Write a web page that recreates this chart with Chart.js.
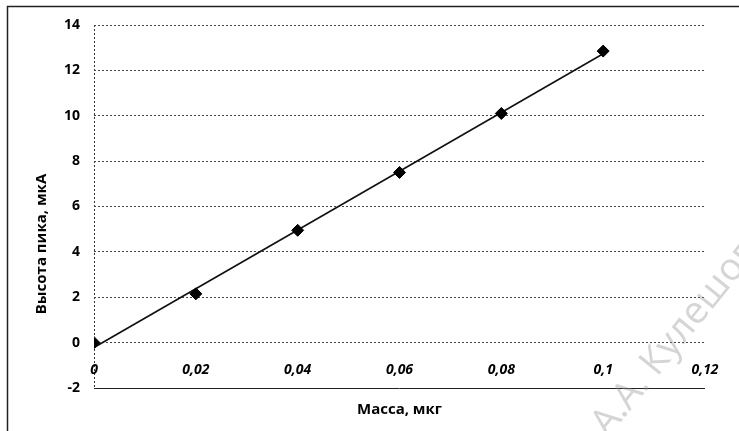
<!DOCTYPE html>
<html>
<head>
  <title>Калибровка</title>
  <script src="https://cdn.jsdelivr.net/npm/chart.js"></script>
  <style>
    body { margin: 0; background: #fff; }
    #wrap { width: 739px; height: 431px; }
  </style>
</head>
<body>
  <div id="wrap"><canvas id="chart" width="739" height="431"></canvas></div>

  <script>
    // data
    const masses = [0, 0.02, 0.04, 0.06, 0.08, 0.1];
    const peaks = [0, 2.15, 4.95, 7.5, 10.1, 12.85];
    const xTickLabels = ['0', '0,02', '0,04', '0,06', '0,08', '0,1', '0,12'];
    const yTickLabels = ['-2', '0', '2', '4', '6', '8', '10', '12', '14'];

    const xTitle = 'Масса, мкг';
    const yTitle = 'Высота пика, мкА';
    const watermark = 'А.А. Кулешов';

    // linear trendline (least squares) from the points
    const n = masses.length;
    const mx = masses.reduce((a, b) => a + b, 0) / n;
    const my = peaks.reduce((a, b) => a + b, 0) / n;
    let sxy = 0, sxx = 0;
    for (let i = 0; i < n; i++) {
      sxy += (masses[i] - mx) * (peaks[i] - my);
      sxx += (masses[i] - mx) * (masses[i] - mx);
    }
    const slope = sxy / sxx;
    const icpt = my - slope * mx;
    const trend = [masses[0], masses[n - 1]].map(x => ({ x: x, y: icpt + slope * x }));

    const FONT = '"Open Sans", "DejaVu Sans", sans-serif';

    // frame, y title and watermark
    const extras = {
      id: 'extras',
      beforeDraw(chart) {
        const ctx = chart.ctx;
        ctx.save();
        ctx.fillStyle = '#fff';
        ctx.fillRect(0, 0, chart.width, chart.height);
        ctx.strokeStyle = '#222';
        ctx.lineWidth = 1.5;
        ctx.beginPath();
        ctx.moveTo(7.5, chart.height);
        ctx.lineTo(7.5, 6.5);
        ctx.lineTo(chart.width, 6.5);
        ctx.stroke();
        ctx.restore();
      },
      afterDraw(chart) {
        const ctx = chart.ctx;
        ctx.save();
        ctx.translate(42, 244);
        ctx.rotate(-Math.PI / 2);
        ctx.font = 'bold 15px ' + FONT;
        ctx.fillStyle = '#000';
        ctx.textAlign = 'center';
        ctx.textBaseline = 'middle';
        ctx.fillText(yTitle, 0, 0);
        ctx.restore();

        ctx.save();
        ctx.translate(608, 438);
        ctx.rotate(-51 * Math.PI / 180);
        ctx.font = '38px ' + FONT;
        ctx.fillStyle = 'rgba(150,150,150,0.4)';
        ctx.textBaseline = 'alphabetic';
        ctx.fillText(watermark, 0, 0);
        ctx.restore();
      }
    };

    new Chart(document.getElementById('chart'), {
      type: 'scatter',
      data: {
        datasets: [{
          label: 'Точки',
          data: masses.map((x, i) => ({ x: x, y: peaks[i] })),
          pointStyle: 'rectRot',
          pointRadius: 6,
          pointHoverRadius: 6,
          backgroundColor: '#000',
          borderColor: '#000',
          showLine: false
        }, {
          label: 'Линейная',
          type: 'line',
          data: trend,
          borderColor: '#111',
          borderWidth: 1.6,
          pointRadius: 0,
          fill: false
        }]
      },
      options: {
        responsive: false,
        animation: false,
        layout: { padding: { left: 0, top: 25, right: 34, bottom: 0 } },
        plugins: {
          legend: { display: false },
          tooltip: { enabled: false },
          title: {
            display: true,
            text: xTitle,
            position: 'bottom',
            fullSize: false,
            color: '#000',
            font: { family: FONT, size: 15, weight: 'bold' },
            padding: { top: 13, bottom: 12 }
          }
        },
        scales: {
          x: {
            type: 'linear',
            position: { y: 0 },
            min: 0,
            max: 0.12,
            ticks: {
              stepSize: 0.02,
              padding: 19,
              color: '#000',
              font: { family: FONT, size: 14, style: 'italic', weight: 'bold' },
              callback: (v, i) => xTickLabels[i]
            },
            grid: {
              drawTicks: false,
              color: c => (c.tick && c.tick.value === 0) ? '#333' : 'rgba(0,0,0,0)'
            },
            border: { display: false, dash: [2, 2] }
          },
          y: {
            min: -2,
            max: 14,
            afterFit: s => { s.width = 94; },
            ticks: {
              stepSize: 2,
              padding: 14,
              color: '#000',
              font: { family: FONT, size: 14, weight: 'bold' },
              callback: (v, i) => yTickLabels[i]
            },
            grid: {
              drawTicks: false,
              color: c => (c.tick && c.tick.value === -2) ? '#222' : '#444'
            },
            border: {
              display: false,
              dash: c => (c.tick && c.tick.value === -2) ? [] : [2, 2]
            }
          }
        }
      },
      plugins: [extras]
    });
  </script>
</body>
</html>
